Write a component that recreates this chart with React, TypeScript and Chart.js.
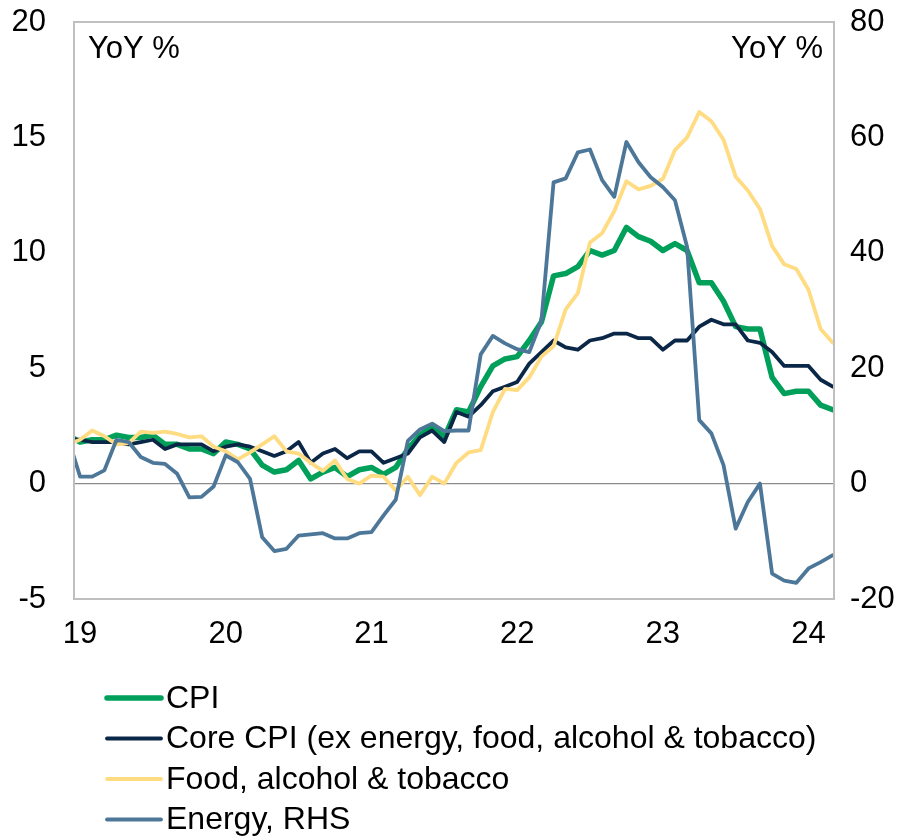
import React, { useEffect, useRef } from "react";
import { Chart, registerables } from "chart.js";

Chart.register(...registerables);

const MONTHS = [
  "Dec-18",
  "Jan-19", "Feb-19", "Mar-19", "Apr-19", "May-19", "Jun-19", "Jul-19", "Aug-19", "Sep-19", "Oct-19", "Nov-19", "Dec-19",
  "Jan-20", "Feb-20", "Mar-20", "Apr-20", "May-20", "Jun-20", "Jul-20", "Aug-20", "Sep-20", "Oct-20", "Nov-20", "Dec-20",
  "Jan-21", "Feb-21", "Mar-21", "Apr-21", "May-21", "Jun-21", "Jul-21", "Aug-21", "Sep-21", "Oct-21", "Nov-21", "Dec-21",
  "Jan-22", "Feb-22", "Mar-22", "Apr-22", "May-22", "Jun-22", "Jul-22", "Aug-22", "Sep-22", "Oct-22", "Nov-22", "Dec-22",
  "Jan-23", "Feb-23", "Mar-23", "Apr-23", "May-23", "Jun-23", "Jul-23", "Aug-23", "Sep-23", "Oct-23", "Nov-23", "Dec-23",
  "Jan-24", "Feb-24", "Mar-24",
];

const CPI = [
  2.1,
  1.8, 1.9, 1.9, 2.1, 2.0, 2.0, 2.1, 1.7, 1.7, 1.5, 1.5, 1.3,
  1.8, 1.7, 1.5, 0.8, 0.5, 0.6, 1.0, 0.2, 0.5, 0.7, 0.3, 0.6,
  0.7, 0.4, 0.7, 1.5, 2.1, 2.5, 2.0, 3.2, 3.1, 4.2, 5.1, 5.4,
  5.5, 6.2, 7.0, 9.0, 9.1, 9.4, 10.1, 9.9, 10.1, 11.1, 10.7, 10.5,
  10.1, 10.4, 10.1, 8.7, 8.7, 7.9, 6.8, 6.7, 6.7, 4.6, 3.9, 4.0,
  4.0, 3.4, 3.2,
];

const CORE = [
  1.9,
  1.9, 1.8, 1.8, 1.8, 1.7, 1.8, 1.9, 1.5, 1.7, 1.7, 1.7, 1.4,
  1.6, 1.7, 1.6, 1.4, 1.2, 1.4, 1.8, 0.9, 1.3, 1.5, 1.1, 1.4,
  1.4, 0.9, 1.1, 1.3, 2.0, 2.3, 1.8, 3.1, 2.9, 3.4, 4.0, 4.2,
  4.4, 5.2, 5.7, 6.2, 5.9, 5.8, 6.2, 6.3, 6.5, 6.5, 6.3, 6.3,
  5.8, 6.2, 6.2, 6.8, 7.1, 6.9, 6.9, 6.2, 6.1, 5.7, 5.1, 5.1,
  5.1, 4.5, 4.2,
];

const FOOD = [
  1.7,
  1.9, 2.3, 2.05, 1.7, 1.75, 2.25, 2.2, 2.25, 2.15, 2.0, 2.05, 1.6,
  1.4, 1.05, 1.35, 1.7, 2.05, 1.4, 1.3, 0.9, 0.55, 1.0, 0.2, 0.0,
  0.35, 0.3, -0.3, 0.3, -0.5, 0.3, 0.0, 0.9, 1.35, 1.45, 3.1, 4.1,
  4.05, 4.6, 5.5, 5.95, 7.55, 8.25, 10.45, 10.85, 11.8, 13.1, 12.75, 12.9,
  13.2, 14.45, 15.0, 16.1, 15.7, 14.9, 13.3, 12.7, 11.9, 10.3, 9.5, 9.3,
  8.4, 6.7, 6.1,
];

const ENERGY = [
  8.0,
  1.2, 1.2, 2.3, 7.6, 7.2, 4.6, 3.6, 3.4, 1.7, -2.4, -2.3, -0.5,
  4.9, 3.7, 0.8, -9.3, -11.7, -11.3, -9.0, -8.8, -8.6, -9.5, -9.5, -8.6,
  -8.4, -5.5, -2.8, 7.4, 9.4, 10.4, 9.1, 9.2, 9.2, 22.4, 25.6, 24.3,
  23.3, 22.8, 28.2, 52.2, 52.9, 57.4, 57.9, 52.6, 49.7, 59.2, 55.7, 53.1,
  51.4, 49.1, 41.0, 11.0, 8.7, 3.2, -7.8, -3.2, 0.0, -15.6, -16.8, -17.2,
  -14.7, -13.6, -12.4,
];

const X_TICKS = [2019, 2020, 2021, 2022, 2023, 2024];
const X_TICK_LABELS = ["19", "20", "21", "22", "23", "24"];
const LEFT_TICKS = [-5, 0, 5, 10, 15, 20];
const RIGHT_TICKS = [-20, 0, 20, 40, 60, 80];
const SERIES_LABELS = [
  "CPI",
  "Core CPI (ex energy, food, alcohol & tobacco)",
  "Food, alcohol & tobacco",
  "Energy, RHS",
];
const AXIS_TITLE = "YoY %";

const COLORS = ["#00A05A", "#0B2747", "#FFDB82", "#4D7799"];
const WIDTHS = [5.5, 3.8, 3.8, 3.8];
const FONT = "Arial, 'Liberation Sans', sans-serif";
const FONT_SIZE = 31;
const LEGEND_FONT_SIZE = 32;

const MON: Record<string, number> = {
  Jan: 0, Feb: 1, Mar: 2, Apr: 3, May: 4, Jun: 5,
  Jul: 6, Aug: 7, Sep: 8, Oct: 9, Nov: 10, Dec: 11,
};

function monthToX(m: string): number {
  const [mm, yy] = m.split("-");
  return 2000 + Number(yy) + MON[mm] / 12;
}

function toPoints(values: number[]) {
  return MONTHS.map((m, i) => ({ x: monthToX(m), y: values[i] }));
}

const overlayPlugin = {
  id: "overlay",
  afterDatasetsDraw(chart: any) {
    const { ctx, chartArea: a } = chart;
    ctx.save();
    ctx.strokeStyle = "#BFBFBF";
    ctx.lineWidth = 2;
    ctx.strokeRect(a.left, a.top, a.right - a.left, a.bottom - a.top);
    ctx.font = `${FONT_SIZE}px ${FONT}`;
    ctx.fillStyle = "#000";
    ctx.textBaseline = "middle";
    ctx.textAlign = "left";
    ctx.fillText(AXIS_TITLE, a.left + 14, a.top + 27);
    ctx.textAlign = "right";
    ctx.fillText(AXIS_TITLE, a.right - 11, a.top + 27);
    const ds = chart.data.datasets;
    const lx0 = a.left + 33;
    const lx1 = lx0 + 54;
    const ly0 = a.bottom + 99;
    const step = 40.5;
    ctx.font = `${LEGEND_FONT_SIZE}px ${FONT}`;
    ctx.textAlign = "left";
    ds.forEach((d: any, i: number) => {
      const y = ly0 + i * step;
      ctx.strokeStyle = d.borderColor;
      ctx.lineWidth = d.borderWidth;
      ctx.lineCap = "round";
      ctx.beginPath();
      ctx.moveTo(lx0, y);
      ctx.lineTo(lx1, y);
      ctx.stroke();
      ctx.fillStyle = "#000";
      ctx.fillText(d.label, lx1 + 5, y + 1);
    });
    ctx.restore();
  },
};

export default function App() {
  const canvasRef = useRef<HTMLCanvasElement | null>(null);

  useEffect(() => {
    const canvas = canvasRef.current;
    if (!canvas) return;
    const series = [CPI, CORE, FOOD, ENERGY];
    const chart = new Chart(canvas, {
      type: "line",
      data: {
        datasets: series.map((vals, i) => ({
          label: SERIES_LABELS[i],
          data: toPoints(vals),
          borderColor: COLORS[i],
          backgroundColor: COLORS[i],
          borderWidth: WIDTHS[i],
          pointRadius: 0,
          tension: 0,
          fill: false,
          borderJoinStyle: "round" as const,
          borderCapStyle: "round" as const,
          yAxisID: i === 3 ? "y2" : "y",
          order: 4 - i,
          clip: 0,
        })),
      },
      options: {
        animation: false,
        responsive: false,
        maintainAspectRatio: false,
        layout: { padding: { top: 22, left: 0, right: 0, bottom: 0 } },
        plugins: {
          legend: { display: false },
          tooltip: { enabled: false },
        },
        scales: {
          x: {
            type: "linear",
            position: "bottom",
            min: 2019 - 0.5 / 12,
            max: 2024 + 2.1 / 12,
            grid: { display: false, drawTicks: false },
            border: { display: false },
            afterBuildTicks: (s: any) => {
              s.ticks = X_TICKS.map((v) => ({ value: v }));
            },
            afterFit: (s: any) => {
              s.height = 237;
              s.paddingLeft = 0;
              s.paddingRight = 0;
            },
            ticks: {
              autoSkip: false,
              maxRotation: 0,
              padding: 17,
              color: "#000",
              font: { family: FONT, size: FONT_SIZE },
              callback: (v: any) => {
                const k = X_TICKS.indexOf(Number(v));
                return k >= 0 ? X_TICK_LABELS[k] : "";
              },
            },
          },
          y: {
            type: "linear",
            position: "left",
            min: -5,
            max: 20,
            afterBuildTicks: (s: any) => {
              s.ticks = LEFT_TICKS.map((v) => ({ value: v }));
            },
            afterFit: (s: any) => {
              s.width = 74;
              s.paddingTop = 0;
              s.paddingBottom = 0;
            },
            grid: {
              drawTicks: false,
              color: (c: any) => (c.tick && c.tick.value === 0 ? "#8C8C8C" : "rgba(0,0,0,0)"),
              lineWidth: 1.3,
            },
            border: { display: false },
            ticks: {
              padding: 28,
              color: "#000",
              font: { family: FONT, size: FONT_SIZE },
            },
          },
          y2: {
            type: "linear",
            position: "right",
            min: -20,
            max: 80,
            afterBuildTicks: (s: any) => {
              s.ticks = RIGHT_TICKS.map((v) => ({ value: v }));
            },
            afterFit: (s: any) => {
              s.width = 77;
              s.paddingTop = 0;
              s.paddingBottom = 0;
            },
            grid: { display: false, drawTicks: false },
            border: { display: false },
            ticks: {
              padding: 16,
              color: "#000",
              font: { family: FONT, size: FONT_SIZE },
            },
          },
        },
      },
      plugins: [overlayPlugin],
    });
    return () => chart.destroy();
  }, []);

  return (
    <div style={{ position: "absolute", left: 0, top: 0, width: 911, height: 836, background: "#fff" }}>
      <canvas ref={canvasRef} width={911} height={836} style={{ display: "block", width: 911, height: 836 }} />
    </div>
  );
}
